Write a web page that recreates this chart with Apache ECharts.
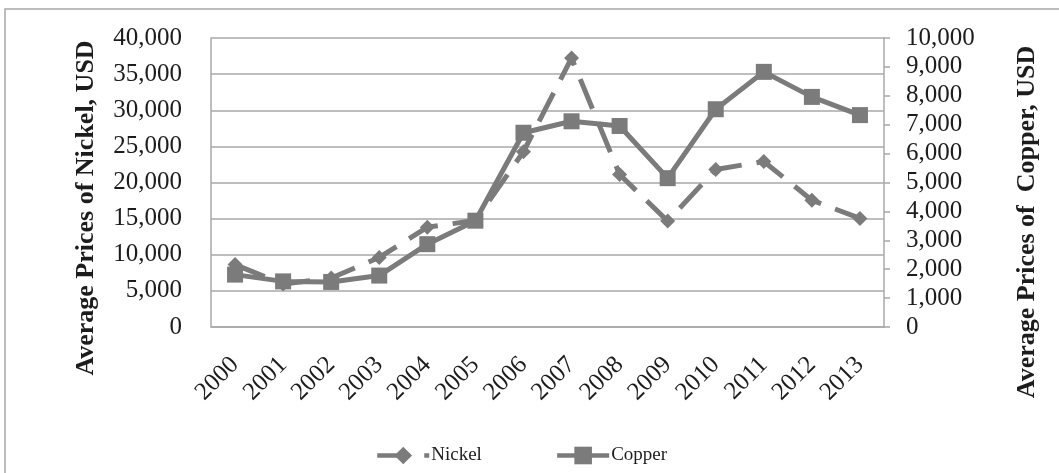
<!DOCTYPE html>
<html>
<head>
<meta charset="utf-8">
<script src="https://cdn.jsdelivr.net/npm/echarts@6/dist/echarts.min.js"></script>
<style>
  html, body { margin: 0; padding: 0; background: #ffffff; }
  #chart { width: 1059px; height: 473px; }
</style>
</head>
<body>
<div id="chart"></div>
<script>
// Annual average metal prices, USD
const years = ['2000', '2001', '2002', '2003', '2004', '2005', '2006',
               '2007', '2008', '2009', '2010', '2011', '2012', '2013'];
const nickel = [8638, 5945, 6772, 9629, 13823, 14744, 24254,
                37230, 21111, 14655, 21809, 22910, 17548, 15030];
const copper = [1813, 1578, 1559, 1779, 2866, 3679, 6722,
                7118, 6956, 5150, 7535, 8828, 7962, 7332];
const nickelTicks = { min: 0, max: 40000, step: 5000 };
const copperTicks = { min: 0, max: 10000, step: 1000 };

const FONT = '"Liberation Serif", "Times New Roman", serif';
const LINE = '#7b7b7b';
const GRID = '#a8a8a8';
const TEXT = '#1c1c1c';

const withCommas = v => String(v).replace(/\B(?=(\d{3})+(?!\d))/g, ',');

const chart = echarts.init(document.getElementById('chart'), null, { renderer: 'canvas' });

chart.setOption({
  backgroundColor: '#ffffff',
  animation: false,
  grid: { left: 211, right: 175, top: 38, bottom: 146, containLabel: false },
  legend: {
    left: 370,
    top: 441,
    itemWidth: 52,
    itemHeight: 22,
    itemGap: 73,
    lineStyle: { width: 4.5 },
    textStyle: { fontFamily: FONT, fontSize: 19, color: TEXT, padding: [0, 0, 0, -3] },
    data: ['Nickel', 'Copper']
  },
  xAxis: {
    type: 'category',
    data: years,
    boundaryGap: true,
    axisLine: { show: true, lineStyle: { color: GRID, width: 1.5 } },
    axisTick: { show: false },
    axisLabel: {
      rotate: 45,
      margin: 34,
      fontFamily: FONT,
      fontSize: 25,
      color: TEXT
    }
  },
  yAxis: [
    {
      type: 'value',
      min: nickelTicks.min,
      max: nickelTicks.max,
      interval: nickelTicks.step,
      position: 'left',
      axisLine: { show: true, lineStyle: { color: GRID, width: 1.5 } },
      axisTick: { show: false },
      splitLine: { show: true, lineStyle: { color: GRID, width: 1.5 } },
      axisLabel: {
        margin: 29,
        fontFamily: FONT,
        fontSize: 25,
        color: TEXT,
        formatter: withCommas
      }
    },
    {
      type: 'value',
      min: copperTicks.min,
      max: copperTicks.max,
      interval: copperTicks.step,
      position: 'right',
      axisLine: { show: true, lineStyle: { color: GRID, width: 1.5 } },
      axisTick: { show: true, length: 6, lineStyle: { color: GRID, width: 1.5 } },
      splitLine: { show: false },
      axisLabel: {
        margin: 22,
        fontFamily: FONT,
        fontSize: 25,
        color: TEXT,
        formatter: withCommas
      }
    }
  ],
  series: [
    {
      name: 'Nickel',
      type: 'line',
      yAxisIndex: 0,
      data: nickel,
      symbol: 'diamond',
      symbolSize: 15,
      itemStyle: { color: LINE },
      lineStyle: { color: LINE, width: 5, type: [32, 15], cap: 'butt' },
      z: 2
    },
    {
      name: 'Copper',
      type: 'line',
      yAxisIndex: 1,
      data: copper,
      symbol: 'rect',
      symbolSize: 16,
      itemStyle: { color: LINE },
      lineStyle: { color: LINE, width: 5 },
      z: 3
    }
  ],
  graphic: [
    {
      type: 'polyline',
      shape: { points: [[5, 473], [5, 9], [1059, 9]] },
      style: { stroke: GRID, lineWidth: 1.5, fill: null },
      silent: true
    },
    {
      type: 'text',
      x: 86, y: 208,
      rotation: Math.PI / 2,
      style: {
        text: 'Average Prices of Nickel, USD',
        font: 'bold 26px ' + FONT,
        fill: TEXT,
        align: 'center',
        verticalAlign: 'middle'
      }
    },
    {
      type: 'text',
      x: 1027, y: 222,
      rotation: Math.PI / 2,
      style: {
        text: 'Average Prices of  Copper, USD',
        font: 'bold 26px ' + FONT,
        fill: TEXT,
        align: 'center',
        verticalAlign: 'middle'
      }
    }
  ]
});
</script>
</body>
</html>
